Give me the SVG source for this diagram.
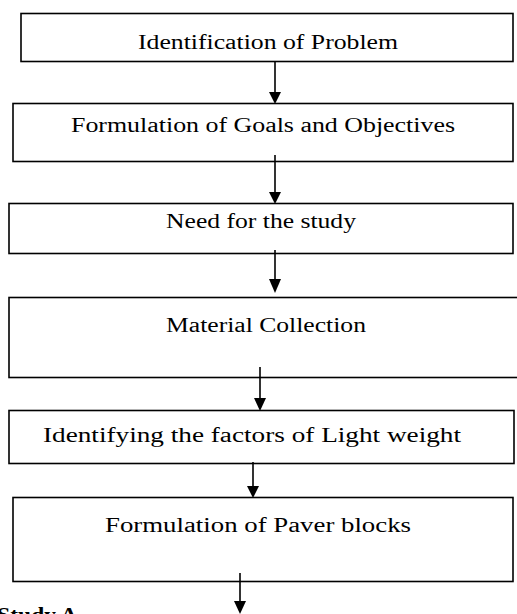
<svg xmlns="http://www.w3.org/2000/svg" width="517" height="614" viewBox="0 0 517 614">
<style>
.box{fill:#fff;stroke:#000;stroke-width:1.6}
.t{font-family:"Liberation Serif","Times New Roman",serif;font-size:21.6px;fill:#000;text-anchor:middle}
.b{font-family:"Liberation Serif","Times New Roman",serif;font-size:21px;font-weight:bold;fill:#000}
.c{stroke:#000;stroke-width:1.6;fill:none}
.h{fill:#000;stroke:none}
</style>
<rect width="517" height="614" fill="#fff"/>
<g id="n1"><rect class="box" x="21" y="13.5" width="492" height="48"/><text class="t" x="268" y="49" textLength="260" lengthAdjust="spacingAndGlyphs">Identification of Problem</text></g>
<g id="n2"><rect class="box" x="13" y="103.5" width="500" height="58"/><text class="t" x="263" y="132" textLength="384" lengthAdjust="spacingAndGlyphs">Formulation of Goals and Objectives</text></g>
<g id="n3"><rect class="box" x="9" y="203.5" width="504" height="50"/><text class="t" x="261" y="228" textLength="190" lengthAdjust="spacingAndGlyphs">Need for the study</text></g>
<g id="n4"><rect class="box" x="9" y="297.5" width="520" height="80"/><text class="t" x="266" y="332" textLength="200" lengthAdjust="spacingAndGlyphs">Material Collection</text></g>
<g id="n5"><rect class="box" x="9" y="410.5" width="505" height="53"/><text class="t" x="252" y="442" textLength="418" lengthAdjust="spacingAndGlyphs">Identifying the factors of Light weight</text></g>
<g id="n6"><rect class="box" x="13" y="497.5" width="500" height="84"/><text class="t" x="258" y="532" textLength="306" lengthAdjust="spacingAndGlyphs">Formulation of Paver blocks</text></g>
<g id="connectors">
<line class="c" x1="275" y1="62" x2="275" y2="93"/><polygon class="h" points="269,92 281,92 275,104"/>
<line class="c" x1="275" y1="155" x2="275" y2="193"/><polygon class="h" points="269,192 281,192 275,204"/>
<line class="c" x1="275" y1="250" x2="275" y2="280"/><polygon class="h" points="269,279 281,279 275,293"/>
<line class="c" x1="260" y1="367" x2="260" y2="400"/><polygon class="h" points="254,398 266,398 260,411"/>
<line class="c" x1="253" y1="462" x2="253" y2="488"/><polygon class="h" points="247,486 259,486 253,498"/>
<line class="c" x1="240" y1="573" x2="240" y2="602"/><polygon class="h" points="234,601 246,601 240,614"/>
</g>
<text class="b" x="-2.7" y="622" textLength="80" lengthAdjust="spacingAndGlyphs">Study A</text>
</svg>
